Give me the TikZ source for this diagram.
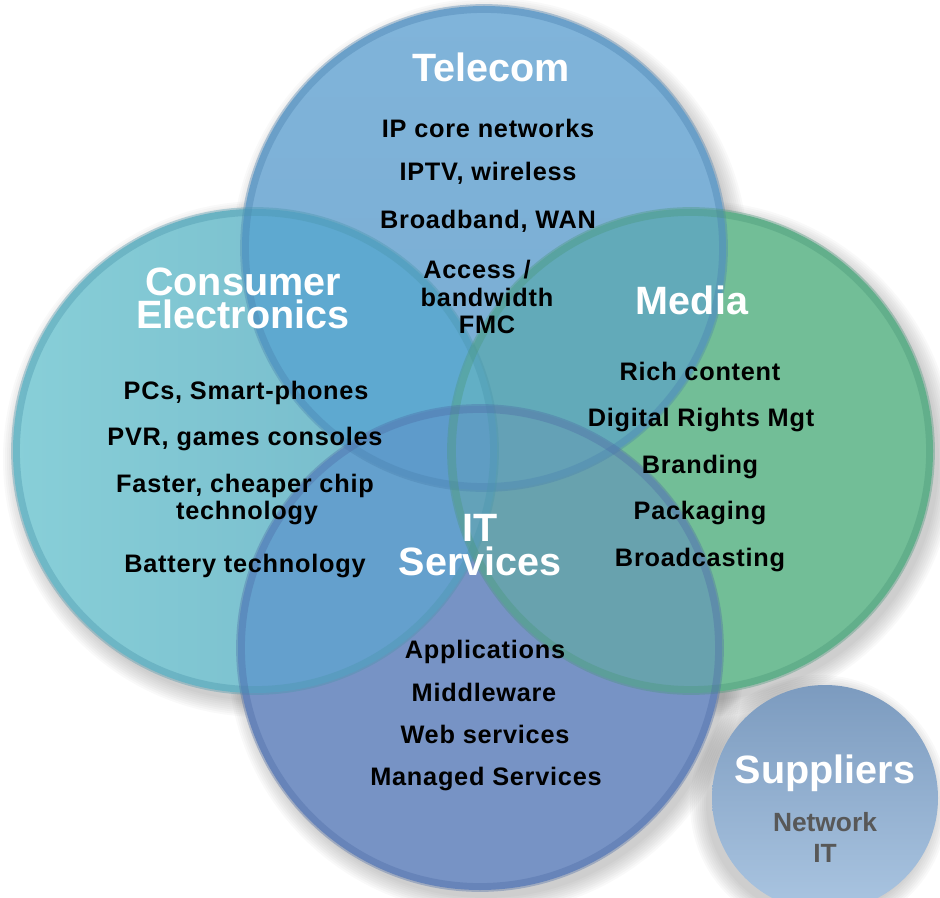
\documentclass[tikz,border=0pt]{standalone}
\usepackage{fontspec}
\setmainfont{Liberation Sans}
\newfontfamily\itemfont[LetterSpace=3]{Liberation Sans}
\definecolor{telC}{HTML}{79ACD2}
\definecolor{telTop}{HTML}{80B4DA}
\definecolor{ceC}{HTML}{7BC0CC}
\definecolor{ceL}{HTML}{88CFD8}
\definecolor{ceR}{HTML}{72B6C8}
\definecolor{medC}{HTML}{72BE97}
\definecolor{itC}{HTML}{7793C5}
\definecolor{telce}{HTML}{5EA9D0}
\definecolor{telmed}{HTML}{62AAB9}
\definecolor{ceit}{HTML}{64A0CD}
\definecolor{medit}{HTML}{68A2AE}
\definecolor{telceit}{HTML}{5E9BCB}
\definecolor{telmedit}{HTML}{64A1B6}
\definecolor{telcemed}{HTML}{62AFC5}
\definecolor{cemedit}{HTML}{63A2B9}
\definecolor{allfour}{HTML}{5F9DC3}
\definecolor{telB}{HTML}{4A82B0}
\definecolor{ceB}{HTML}{4A96AC}
\definecolor{medB}{HTML}{4A987A}
\definecolor{itB}{HTML}{4E6CA6}
\definecolor{supTop}{HTML}{7C9BBF}
\definecolor{supBot}{HTML}{AAC5E1}
\definecolor{supText}{HTML}{585858}
\begin{document}
\begin{tikzpicture}[x=0.02cm,y=-0.02cm,
  title/.style={font=\fontsize{22.5}{19.35}\selectfont\bfseries, text=white, anchor=base, inner sep=0pt, align=center},
  item/.style={font=\itemfont\fontsize{14.4}{16}\selectfont\bfseries, text=black, anchor=base, inner sep=0pt},
  subitem/.style={font=\fontsize{15}{17}\selectfont\bfseries, text=supText, anchor=base, inner sep=0pt},
  rim/.style={line width=5, draw opacity=0.38}]
\def\tel{(484,248) circle (242)}
\def\ce{(255,451) circle (242)}
\def\med{(691,451) circle (242)}
\def\its{(480,648) circle (242)}
\def\sup{(825,798) circle (113)}
\useasboundingbox (0,0) rectangle (940,898);
\clip (0,0) rectangle (940,898);
% shadows
\foreach \k in {0,2,...,16}{
  \fill[black, opacity=0.022] (490,256) circle (242+\k);
  \fill[black, opacity=0.022] (261,459) circle (242+\k);
  \fill[black, opacity=0.022] (697,459) circle (242+\k);
  \fill[black, opacity=0.022] (486,656) circle (242+\k);
  \fill[black, opacity=0.022] (819,804) circle (113+\k);
}
% base fills
\shade[top color=telTop, bottom color=telC] \tel;
\shade[left color=ceL, right color=ceR] \ce;
\fill[medC] \med;
\fill[itC] \its;
% pairwise
\begin{scope}\clip \tel; \fill[telce] \ce; \fill[telmed] \med; \end{scope}
\begin{scope}\clip \its; \fill[ceit] \ce; \fill[medit] \med; \end{scope}
% triples
\begin{scope}\clip \tel; \clip \its; \fill[telceit] \ce; \fill[telmedit] \med; \end{scope}
\begin{scope}\clip \ce; \clip \med; \fill[telcemed] \tel; \fill[cemedit] \its; \end{scope}
% all four
\begin{scope}\clip \tel; \clip \its; \clip \ce; \fill[allfour] \med; \end{scope}
% rims
\draw[rim, draw=telB] (484,248) circle (239.5);
\draw[rim, draw=ceB] (255,451) circle (239.5);
\draw[rim, draw=medB] (691,451) circle (239.5);
\draw[rim, draw=itB] (480,648) circle (239.5);
% suppliers
\shade[top color=supTop, bottom color=supBot] \sup;
% Telecom texts
\node[title] (teltitle) at (491,82) {Telecom};
\node[item] (t1) at (488,138) {IP core networks};
\node[item] (t2) at (488,181) {IPTV, wireless};
\node[item] (t3) at (488,229) {Broadband, WAN};
\node[item] (t4) at (477,279) {Access /};
\node[item] (t5) at (487,307) {bandwidth};
\node[item] (t6) at (487,334) {FMC};
% Consumer electronics
\node[title] (cetitle) at (243,329) {Consumer\\Electronics};
\node[item] (c1) at (246,400) {PCs, Smart-phones};
\node[item] (c2) at (245,445) {PVR, games consoles};
\node[item] (c3) at (245,492) {Faster, cheaper chip};
\node[item] (c4) at (247,520) {technology};
\node[item] (c5) at (245,572) {Battery technology};
% Media
\node[title] (medtitle) at (692,315) {Media};
\node[item] (m1) at (700,381) {Rich content};
\node[item] (m2) at (701,427) {Digital Rights Mgt};
\node[item] (m3) at (700,474) {Branding};
\node[item] (m4) at (700,520) {Packaging};
\node[item] (m5) at (700,566) {Broadcasting};
% IT services
\node[title] (ittitle) at (480,575) {IT\\Services};
\node[item] (i1) at (485,658) {Applications};
\node[item] (i2) at (484,701) {Middleware};
\node[item] (i3) at (485,743) {Web services};
\node[item] (i4) at (486,785) {Managed Services};
% Suppliers
\node[title] (suptitle) at (825,783) {Suppliers};
\node[subitem] (s1) at (825,831) {Network};
\node[subitem] (s2) at (825,862) {IT};
\end{tikzpicture}
\end{document}
